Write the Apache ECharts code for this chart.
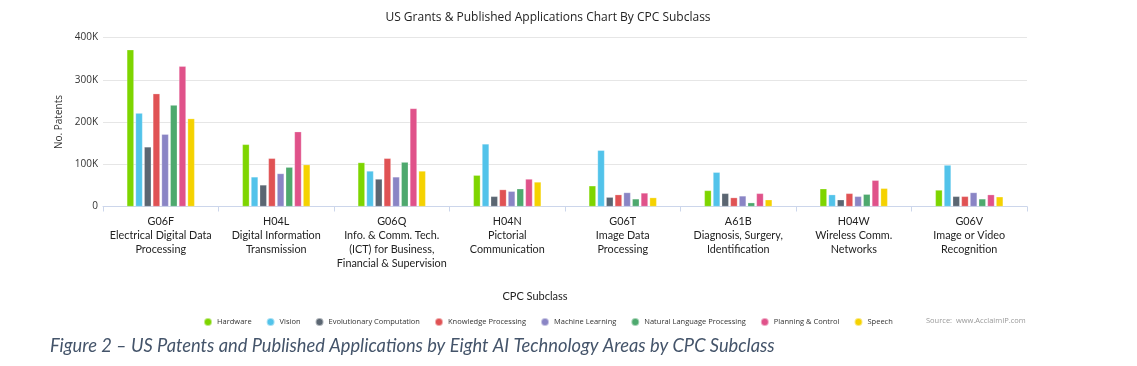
<!DOCTYPE html>
<html>
<head>
<meta charset="utf-8">
<script src="https://cdn.jsdelivr.net/npm/echarts@6/dist/echarts.min.js"></script>
<style>
html,body{margin:0;padding:0;background:#fff;}
#chart{width:1137px;height:366px;}
</style>
</head>
<body>
<div id="chart"></div>
<script>
var categories = [
  'G06F\nElectrical Digital Data\nProcessing',
  'H04L\nDigital Information\nTransmission',
  'G06Q\nInfo. & Comm. Tech.\n(ICT) for Business,\nFinancial & Supervision',
  'H04N\nPictorial\nCommunication',
  'G06T\nImage Data\nProcessing',
  'A61B\nDiagnosis, Surgery,\nIdentification',
  'H04W\nWireless Comm.\nNetworks',
  'G06V\nImage or Video\nRecognition'
];
var seriesNames = ['Hardware','Vision','Evolutionary Computation','Knowledge Processing','Machine Learning','Natural Language Processing','Planning & Control','Speech'];
var hardware   = [371000,147000,104000,74000,49000,38000,42000,39000];
var vision     = [221000,70000,84000,148000,133000,81000,28000,98000];
var evolution  = [141000,51000,65000,24000,22000,31000,16000,24000];
var knowledge  = [267000,114000,114000,40000,28000,21000,31000,24000];
var machine    = [171000,78000,70000,36000,33000,25000,24000,33000];
var nlp        = [240000,93000,105000,42000,18000,9000,29000,18000];
var planning   = [332000,177000,232000,65000,32000,31000,62000,28000];
var speech     = [208000,99000,84000,58000,21000,16000,43000,23000];
var yTicks = [0,100000,200000,300000,400000];

var colors = ['#7ed500','#52c3ea','#5b6672','#e05254','#8a85c5','#4ea96e','#e0528a','#f5d200'];
var allData = [hardware,vision,evolution,knowledge,machine,nlp,planning,speech];

var chart = echarts.init(document.getElementById('chart'));
var series = seriesNames.map(function(n,i){
  return {
    name:n, type:'bar', data:allData[i], barWidth:7, barGap:'24%',
    itemStyle:{color:colors[i], borderColor:'rgba(255,255,255,0.5)', borderWidth:0.5},
    emphasis:{disabled:true}
  };
});
chart.setOption({
  animation:false,
  color:colors,
  title:{
    text:'US Grants & Published Applications Chart By CPC Subclass',
    left:543, top:7, textAlign:'center',
    textStyle:{fontFamily:'Open Sans', fontSize:12, fontWeight:500, color:'#222'}
  },
  grid:{left:103, right:110, top:37.5, bottom:159.5},
  legend:{
    data:seriesNames, left:198, top:312, icon:'circle', itemWidth:8, itemHeight:8, itemGap:14,
    textStyle:{fontFamily:'Open Sans', fontSize:7.5, color:'#333', fontWeight:500}
  },
  xAxis:{
    type:'category', data:categories,
    axisLine:{lineStyle:{color:'#ccd6eb'}},
    axisTick:{show:true, length:5, lineStyle:{color:'#ccd6eb'}},
    axisLabel:{interval:0, margin:8, lineHeight:14, fontFamily:'Lato', fontSize:10.8, color:'#222', align:'center'}
  },
  yAxis:{
    type:'value', min:yTicks[0], max:yTicks[yTicks.length-1], interval:100000,
    name:'No. Patents', nameLocation:'middle', nameGap:33, nameRotate:90,
    nameTextStyle:{fontFamily:'Open Sans', fontSize:10, color:'#333'},
    axisLine:{show:false}, axisTick:{show:false},
    splitLine:{lineStyle:{color:'#e6e6e6'}},
    axisLabel:{margin:5, fontFamily:'Open Sans', fontSize:10, color:'#333',
      formatter:function(v){return v===0?'0':(v/1000)+'K';}}
  },
  graphic:[
    {type:'text', style:{text:'CPC Subclass', x:535, y:296, textAlign:'center', textVerticalAlign:'middle', font:'11px Lato', fill:'#222'}},
    {type:'text', style:{text:'Source:  www.AcclaimIP.com', x:926, y:321, textVerticalAlign:'middle', font:'7.5px "Open Sans"', fill:'#999'}},
    {type:'text', style:{text:'Figure 2 – US Patents and Published Applications by Eight AI Technology Areas by CPC Subclass', x:50, y:346, textVerticalAlign:'middle', font:'italic 18.3px Lato', fill:'#44546a'}}
  ],
  series:series
});
</script>
</body>
</html>
